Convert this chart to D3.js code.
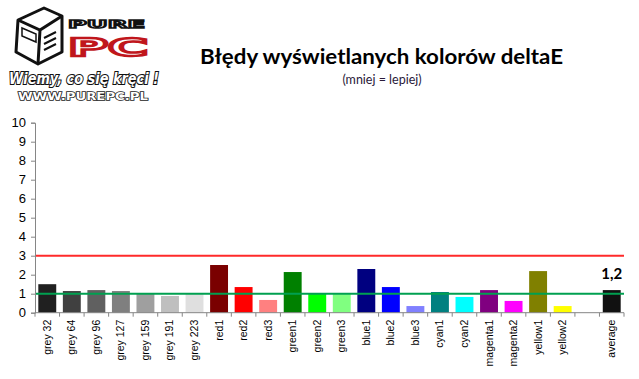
<!DOCTYPE html>
<html><head><meta charset="utf-8">
<script src="https://cdn.jsdelivr.net/npm/d3@7"></script>
<style>html,body{margin:0;padding:0;background:#fff;}svg{display:block;}</style>
</head><body>
<svg id="c" width="639" height="379"></svg>
<script>
const categories = ["grey 32","grey 64","grey 96","grey 127","grey 159","grey 191","grey 223","red1","red2","red3","green1","green2","green3","blue1","blue2","blue3","cyan1","cyan2","magenta1","magenta2","yellow1","yellow2"," ","average"];
const values = [1.5,1.14,1.19,1.14,1.0,0.88,1.0,2.51,1.35,0.67,2.14,1.03,0.98,2.3,1.35,0.35,1.09,0.83,1.19,0.62,2.19,0.35,null,1.19];
const barColors = ["#202020","#404040","#606060","#7f7f7f","#9f9f9f","#bfbfbf","#dfdfdf","#7a0000","#ff0000","#ff8080","#008000","#00ff00","#80ff80","#000080","#0000ff","#8080ff","#008080","#00ffff","#800080","#ff00ff","#808000","#ffff00","#ffffff","#111111"];
const yTicks = [0,1,2,3,4,5,6,7,8,9,10];
const refLines = [{v:3,color:"#ff2a2a"},{v:1,color:"#00a050"}];
const averageLabel = "1,2";
const title = "Błędy wyświetlanych kolorów deltaE";
const subtitle = "(mniej = lepiej)";

const svg = d3.select("#c");
const x = d3.scaleBand().domain(categories).range([35,624]).paddingInner(0.27).paddingOuter(0.135);
const y = d3.scaleLinear().domain([0,10]).range([312.7,122.7]);

// title
svg.append("text").attr("x",200).attr("y",64).attr("text-anchor","start")
  .attr("font-family","Lato, 'Open Sans', sans-serif").attr("font-weight","bold").attr("font-size",20)
  .attr("textLength",363).attr("lengthAdjust","spacingAndGlyphs")
  .attr("fill","#000").text(title);
svg.append("text").attr("x",382).attr("y",84).attr("text-anchor","middle")
  .attr("font-family","Lato, sans-serif").attr("font-size",12.5).attr("fill","#2a1a3a").text(subtitle);

// bars
svg.append("g").selectAll("rect").data(categories.map((c,i)=>({c,v:values[i],col:barColors[i]})).filter(d=>d.v!=null))
  .join("rect").attr("x",d=>x(d.c)).attr("width",x.bandwidth())
  .attr("y",d=>y(d.v)).attr("height",d=>y(0)-y(d.v)).attr("fill",d=>d.col);

// reference lines
svg.append("g").selectAll("line").data(refLines).join("line")
  .attr("x1",35).attr("x2",624).attr("y1",d=>y(d.v)).attr("y2",d=>y(d.v))
  .attr("stroke",d=>d.color).attr("stroke-width",2);

// y axis
const yAxis = d3.axisLeft(y).tickValues(yTicks).tickSize(4).tickPadding(5).tickFormat(d3.format("d"));
const gy = svg.append("g").attr("transform","translate(35,0)").call(yAxis);
gy.select(".domain").attr("stroke","#868686");
gy.selectAll(".tick line").attr("stroke","#868686");
gy.selectAll(".tick text").attr("font-family","'Liberation Sans', Arial, sans-serif").attr("font-size",13).attr("fill","#000");

// x axis
const gx = svg.append("g").attr("transform",`translate(0,${y(0)})`);
gx.append("line").attr("x1",35).attr("x2",624).attr("y1",0).attr("y2",0).attr("stroke","#868686");
const step = x.step();
const bounds = d3.range(categories.length+1).map(i=>x.range()[0]+i*step);
gx.selectAll("line.tk").data(bounds).join("line").attr("class","tk")
  .attr("x1",d=>d).attr("x2",d=>d).attr("y1",0).attr("y2",4).attr("stroke","#868686");
gx.selectAll("text").data(categories).join("text")
  .attr("transform",d=>`translate(${x(d)+x.bandwidth()/2+3.5},7) rotate(-90)`)
  .attr("text-anchor","end").attr("font-family","'Liberation Sans', Arial, sans-serif")
  .attr("font-size",10.5).attr("fill","#000").text(d=>d);

// average label
const avgI = categories.indexOf("average");
svg.append("text").attr("x",x("average")+x.bandwidth()/2).attr("y",y(values[avgI])-11)
  .attr("text-anchor","middle").attr("font-family","Lato, sans-serif").attr("font-weight","bold")
  .attr("font-size",15).attr("fill","#000").text(averageLabel);

// logo (approximation)
const logo = svg.append("g");
logo.append("path").attr("d","M18,20 L44,8 L62,16 L62,52 L38,64 L16,52 Z").attr("fill","#fff").attr("stroke","#111").attr("stroke-width",3).attr("stroke-linejoin","round");
logo.append("path").attr("d","M18,20 L40,30 L62,16 M40,30 L38,64").attr("fill","none").attr("stroke","#111").attr("stroke-width",3);
logo.append("path").attr("d","M22,28 L36,34 L36,42 L22,36 Z").attr("fill","#fff").attr("stroke","#111").attr("stroke-width",1.5);
logo.append("path").attr("d","M44,38 L56,32 M44,44 L56,38 M44,50 L56,44").attr("stroke","#111").attr("stroke-width",2);
logo.append("text").attr("x",68).attr("y",28).attr("font-family","'DejaVu Sans', sans-serif").attr("font-weight","bold")
  .attr("font-size",11).attr("textLength",77).attr("lengthAdjust","spacingAndGlyphs")
  .attr("fill","#fff").attr("stroke","#111").attr("stroke-width",1.4).text("PURE");
logo.append("text").attr("x",68).attr("y",56).attr("font-family","'DejaVu Sans', sans-serif").attr("font-weight","bold")
  .attr("font-size",24).attr("textLength",80).attr("lengthAdjust","spacingAndGlyphs")
  .attr("fill","#fff").attr("stroke","#c0161c").attr("stroke-width",2.5).text("PC");
logo.append("text").attr("x",9).attr("y",84).attr("font-family","'DejaVu Sans', sans-serif").attr("font-weight","bold").attr("font-style","italic")
  .attr("font-size",15).attr("textLength",150).attr("lengthAdjust","spacingAndGlyphs")
  .attr("fill","#fff").attr("stroke","#111").attr("stroke-width",2.2).attr("paint-order","stroke").text("Wiemy, co się kręci !");
logo.append("text").attr("x",18).attr("y",100).attr("font-family","'DejaVu Sans', sans-serif").attr("font-weight","bold")
  .attr("font-size",10).attr("textLength",130).attr("lengthAdjust","spacingAndGlyphs")
  .attr("fill","#fff").attr("stroke","#222").attr("stroke-width",1.4).attr("paint-order","stroke").text("WWW.PUREPC.PL");
</script>
</body></html>
